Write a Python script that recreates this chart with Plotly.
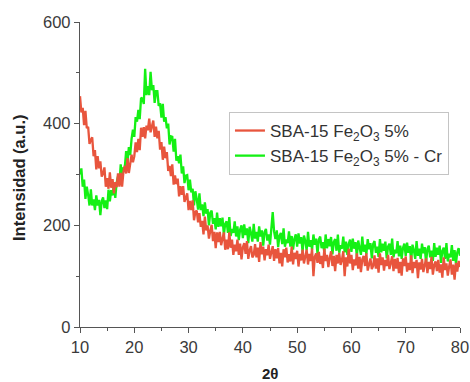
import numpy as np
import plotly.graph_objects as go

# 2-theta scan grid (degrees), 0.25° step
two_theta = np.round(np.arange(10.0, 80.0001, 0.25), 2)

# SBA-15 Fe2O3 5% intensities (a.u.)
fe_5 = [
    454, 422, 431, 397, 425, 391, 394, 360,
    368, 373, 336, 348, 310, 336, 312, 326,
    296, 302, 314, 276, 293, 272, 304, 274,
    291, 263, 285, 275, 302, 276, 303, 276,
    305, 317, 302, 332, 303, 325, 339, 324,
    336, 363, 344, 370, 348, 392, 374, 393,
    371, 396, 387, 410, 383, 395, 406, 374,
    394, 371, 386, 349, 364, 329, 355, 332,
    344, 307, 317, 297, 320, 280, 298, 281,
    292, 257, 277, 260, 277, 246, 255, 263,
    230, 248, 230, 249, 210, 226, 229, 206,
    224, 197, 209, 182, 217, 190, 200, 174,
    189, 201, 169, 187, 155, 186, 167, 187,
    161, 171, 186, 152, 172, 153, 186, 156,
    172, 142, 162, 149, 172, 142, 164, 133,
    157, 165, 144, 169, 134, 151, 159, 137,
    142, 163, 137, 156, 128, 167, 143, 158,
    131, 153, 141, 162, 134, 147, 159, 130,
    153, 135, 155, 125, 146, 119, 153, 137,
    156, 127, 143, 129, 158, 123, 146, 134,
    150, 119, 144, 131, 152, 125, 139, 152,
    123, 144, 130, 154, 100, 138, 145, 126,
    148, 124, 140, 116, 154, 130, 142, 118,
    136, 149, 120, 140, 110, 142, 125, 146,
    122, 132, 149, 100, 137, 119, 154, 125,
    142, 112, 133, 121, 145, 115, 138, 108,
    133, 140, 120, 145, 111, 127, 135, 114,
    120, 141, 115, 135, 107, 145, 122, 137,
    111, 132, 120, 142, 114, 126, 139, 110,
    134, 115, 136, 106, 128, 101, 135, 120,
    139, 109, 126, 112, 141, 106, 128, 116,
    132, 96, 127, 113, 134, 108, 122, 135,
    106, 128, 114, 138, 103, 122, 129, 110,
    132, 107, 123, 97, 137, 112, 125, 101,
    119, 133, 103, 123, 93, 126, 109, 130,
    118,
]

# SBA-15 Fe2O3 5% - Cr intensities (a.u.)
fe_5_cr = [
    300, 312, 276, 290, 252, 276, 260, 239,
    271, 239, 251, 230, 259, 239, 250, 220,
    248, 255, 234, 249, 232, 270, 247, 269,
    259, 282, 254, 284, 296, 281, 320, 291,
    313, 314, 346, 324, 354, 338, 370, 388,
    374, 413, 404, 427, 409, 451, 449, 439,
    508, 456, 474, 456, 502, 466, 476, 441,
    464, 464, 435, 440, 412, 439, 404, 413,
    391, 400, 359, 375, 374, 345, 370, 327,
    336, 322, 339, 302, 316, 283, 298, 299,
    269, 290, 265, 272, 239, 267, 252, 231,
    263, 230, 241, 218, 245, 223, 232, 200,
    225, 229, 203, 214, 192, 225, 197, 214,
    198, 215, 181, 203, 208, 185, 216, 179,
    193, 185, 208, 178, 198, 171, 192, 200,
    175, 202, 181, 194, 165, 197, 185, 168,
    203, 174, 187, 168, 198, 178, 190, 160,
    187, 193, 170, 182, 162, 197, 226, 188,
    173, 190, 157, 180, 185, 163, 194, 158,
    172, 165, 188, 158, 179, 152, 174, 182,
    158, 184, 164, 177, 148, 180, 169, 151,
    187, 158, 171, 152, 182, 162, 174, 144,
    172, 178, 155, 167, 147, 182, 155, 173,
    159, 177, 143, 167, 173, 150, 182, 146,
    161, 154, 178, 147, 168, 142, 164, 172,
    148, 174, 154, 167, 139, 170, 159, 142,
    178, 148, 162, 143, 173, 153, 165, 135,
    163, 169, 146, 158, 138, 173, 147, 164,
    150, 168, 135, 158, 164, 142, 174, 137,
    152, 145, 169, 139, 160, 134, 156, 164,
    140, 166, 146, 159, 130, 162, 151, 134,
    169, 140, 154, 134, 164, 145, 157, 126,
    154, 160, 137, 150, 130, 165, 138, 156,
    142, 160, 126, 150, 156, 134, 165, 129,
    144, 137, 161, 130, 151, 125, 147, 155,
    140,
]

series_names = ["SBA-15 Fe<sub>2</sub>O<sub>3</sub> 5%",
                "SBA-15 Fe<sub>2</sub>O<sub>3</sub> 5% - Cr"]
x_ticks = [10, 20, 30, 40, 50, 60, 70, 80]
y_ticks = [0, 200, 400, 600]

RED = "#E8553D"
GREEN = "#14F014"
AXIS = "#555555"
FONT = "Arial, Liberation Sans, sans-serif"

fig = go.Figure()
fig.add_trace(go.Scatter(x=two_theta, y=fe_5_cr, mode="lines", name=series_names[1],
                         line=dict(color=GREEN, width=2.3), legendrank=2))
fig.add_trace(go.Scatter(x=two_theta, y=fe_5, mode="lines", name=series_names[0],
                         line=dict(color=RED, width=2.3), legendrank=1))

axis_common = dict(ticks="outside", ticklen=5, tickwidth=1.2, tickcolor=AXIS,
                   showline=True, linecolor=AXIS, linewidth=1.4, showgrid=False,
                   zeroline=False, automargin=False,
                   tickfont=dict(size=16.5, color="#3A3A3A"))

fig.update_layout(
    width=470, height=382,
    margin=dict(l=80, r=10, t=22, b=55),
    paper_bgcolor="white", plot_bgcolor="white",
    font=dict(family=FONT, size=16, color="#333333"),
    showlegend=True,
    legend=dict(x=0.392, y=0.705, xanchor="left", yanchor="top",
                bordercolor="#C4C4C4", borderwidth=1, bgcolor="white",
                font=dict(size=17, color="#333333"),
                tracegroupgap=0, itemwidth=30),
    xaxis=dict(range=[10, 80], tickvals=x_ticks,
               minor=dict(dtick=5, ticks="outside", ticklen=3, tickcolor=AXIS, showgrid=False),
               **axis_common),
    yaxis=dict(range=[0, 600], tickvals=y_ticks,
               minor=dict(dtick=100, ticks="outside", ticklen=3, tickcolor=AXIS, showgrid=False),
               **axis_common),
    annotations=[
        dict(text="<b>Intensidad (a.u.)</b>", xref="paper", yref="paper",
             x=-0.1605, y=0.4885, textangle=-90, showarrow=False,
             xanchor="center", yanchor="middle",
             font=dict(size=16.5, color="#222222")),
        dict(text="<b>2θ</b>", xref="paper", yref="paper",
             x=0.5, y=-0.154, showarrow=False, xanchor="center", yanchor="middle",
             font=dict(size=15, color="#222222")),
    ],
)

fig.write_html("out.html")
